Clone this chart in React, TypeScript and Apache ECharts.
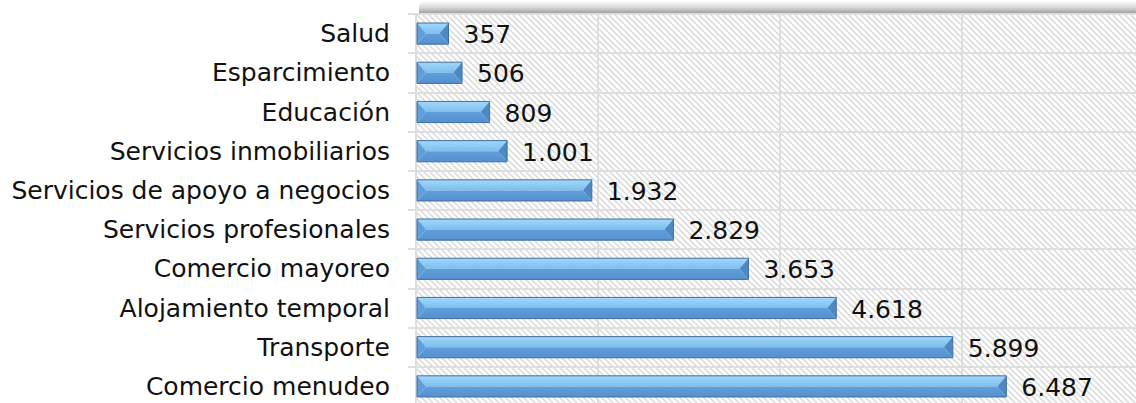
import React, { useEffect, useRef } from "react";
import * as echarts from "echarts";

const categories = [
  "Salud",
  "Esparcimiento",
  "Educación",
  "Servicios inmobiliarios",
  "Servicios de apoyo a negocios",
  "Servicios profesionales",
  "Comercio mayoreo",
  "Alojamiento temporal",
  "Transporte",
  "Comercio menudeo",
];
const values = [357, 506, 809, 1001, 1932, 2829, 3653, 4618, 5899, 6487];
const axisMax = 8000;
const axisInterval = 2000;

const FONT = "DejaVu Sans";

function fmt(v: number): string {
  return String(v).replace(/\B(?=(\d{3})+(?!\d))/g, ".");
}

const hatchSvg =
  "<svg xmlns='http://www.w3.org/2000/svg' width='6' height='6'>" +
  "<path d='M-1,-1 L7,7 M-1,5 L1,7 M5,-1 L7,1' stroke='#d9d9d9' stroke-width='1.5' fill='none'/></svg>";
const hatchUrl = "data:image/svg+xml;charset=utf-8," + encodeURIComponent(hatchSvg);

export default function App() {
  const ref = useRef<HTMLDivElement>(null);
  useEffect(() => {
    if (!ref.current) return;
    const chart = echarts.init(ref.current, undefined, { renderer: "svg" });
    const gridLeft = 416;
    const gridTop = 14;
    const gridW = 728;
    const gridH = 392;
    chart.setOption({
      animation: false,
      backgroundColor: "#ffffff",
      grid: {
        left: gridLeft,
        top: gridTop,
        width: gridW,
        height: gridH,
        show: true,
        borderWidth: 0,
        backgroundColor: { image: hatchUrl, repeat: "repeat" },
      },
      graphic: [
        {
          type: "rect",
          left: 419,
          top: 1,
          shape: { width: 760, height: 13, r: [6, 0, 0, 0] },
          style: {
            fill: new echarts.graphic.LinearGradient(0, 0, 0, 1, [
              { offset: 0, color: "rgba(255,255,255,1)" },
              { offset: 0.5, color: "#d8d8d8" },
              { offset: 1, color: "#979797" },
            ]),
          },
          silent: true,
        },
      ],
      xAxis: {
        type: "value",
        min: 0,
        max: axisMax,
        interval: axisInterval,
        axisLabel: { show: false },
        axisLine: { show: false },
        axisTick: { show: false },
        splitLine: { show: true, lineStyle: { color: "#dedede", width: 2 } },
      },
      yAxis: {
        type: "category",
        inverse: true,
        data: categories,
        axisLine: { show: true, lineStyle: { color: "#dedede", width: 2 } },
        axisTick: { show: true, length: 8, lineStyle: { color: "#dedede", width: 2 } },
        splitLine: { show: true, lineStyle: { color: "#dedede", width: 2 } },
        axisLabel: {
          fontFamily: FONT,
          fontSize: 25,
          color: "#111111",
          margin: 26,
        },
      },
      series: [
        {
          type: "custom",
          encode: { x: 0, y: 1 },
          data: values.map((v, i) => [v, i]),
          renderItem: (params: any, api: any) => {
            const v = api.value(0);
            const idx = api.value(1);
            const p0 = api.coord([0, idx]);
            const p1 = api.coord([v, idx]);
            const band = api.size([0, 1])[1];
            const h = band * 0.54;
            const x0 = p0[0] + 1;
            const x1 = p1[0];
            const yT = p0[1] - h / 2;
            const yB = p0[1] + h / 2;
            const yM = p0[1];
            const b = 9;
            return {
              type: "group",
              children: [
                {
                  type: "polygon",
                  shape: { points: [[x0, yT], [x1, yT], [x1 - b, yM], [x0 + b, yM]] },
                  style: {
                    fill: new echarts.graphic.LinearGradient(0, 0, 0, 1, [
                      { offset: 0, color: "#a2d8fb" },
                      { offset: 0.35, color: "#93cff8" },
                      { offset: 1, color: "#7fbdee" },
                    ]),
                  },
                },
                {
                  type: "polygon",
                  shape: { points: [[x0, yB], [x1, yB], [x1 - b, yM], [x0 + b, yM]] },
                  style: {
                    fill: new echarts.graphic.LinearGradient(0, 0, 0, 1, [
                      { offset: 0, color: "#5f9fda" },
                      { offset: 1, color: "#5590cf" },
                    ]),
                  },
                },
                {
                  type: "polygon",
                  shape: { points: [[x0, yT], [x0 + b, yM], [x0, yB]] },
                  style: { fill: "#5f9ddb" },
                },
                {
                  type: "polygon",
                  shape: { points: [[x1, yT], [x1 - b, yM], [x1, yB]] },
                  style: { fill: "#4f89c4" },
                },
                {
                  type: "rect",
                  shape: { x: x0, y: yT, width: x1 - x0, height: h },
                  style: { fill: "none", stroke: "#3f6f9f", lineWidth: 1 },
                },
                {
                  type: "text",
                  x: x1 + 15,
                  y: p0[1] + 1,
                  style: {
                    text: fmt(v),
                    fill: "#111111",
                    font: `25px "${FONT}"`,
                    verticalAlign: "middle",
                    align: "left",
                  },
                },
              ],
            };
          },
        },
      ],
    });
    return () => chart.dispose();
  }, []);
  return (
    <div
      ref={ref}
      style={{ position: "fixed", left: 0, top: 0, width: 1200, height: 430 }}
    />
  );
}
